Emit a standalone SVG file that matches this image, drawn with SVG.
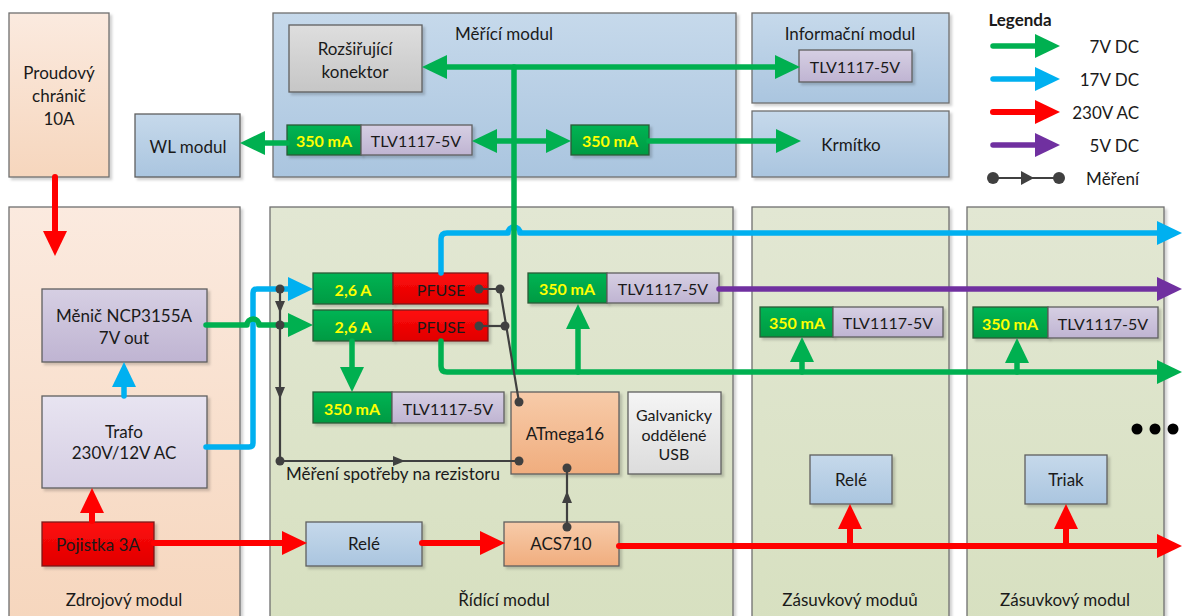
<svg xmlns="http://www.w3.org/2000/svg" width="1184" height="616" viewBox="0 0 1184 616">
  <defs>
    <linearGradient id="gPeach" x1="0" y1="0" x2="0" y2="1"><stop offset="0" stop-color="#fbeadf"/><stop offset="1" stop-color="#f6d6bd"/></linearGradient>
    <linearGradient id="gOlive" x1="0" y1="0" x2="0" y2="1"><stop offset="0" stop-color="#e2e7d3"/><stop offset="1" stop-color="#d7e0c0"/></linearGradient>
    <linearGradient id="gBlue" x1="0" y1="0" x2="0" y2="1"><stop offset="0" stop-color="#c6d9eb"/><stop offset="1" stop-color="#aac5df"/></linearGradient>
    <linearGradient id="gLav" x1="0" y1="0" x2="0" y2="1"><stop offset="0" stop-color="#d6cfe3"/><stop offset="1" stop-color="#bfb4d2"/></linearGradient>
    <linearGradient id="gLavLight" x1="0" y1="0" x2="0" y2="1"><stop offset="0" stop-color="#e8e4f1"/><stop offset="1" stop-color="#d5cee3"/></linearGradient>
    <linearGradient id="gGreen" x1="0" y1="0" x2="0" y2="1"><stop offset="0" stop-color="#00b454"/><stop offset="1" stop-color="#009a42"/></linearGradient>
    <linearGradient id="gRed" x1="0" y1="0" x2="0" y2="1"><stop offset="0" stop-color="#ff0b0b"/><stop offset="1" stop-color="#e00000"/></linearGradient>
    <linearGradient id="gOrange" x1="0" y1="0" x2="0" y2="1"><stop offset="0" stop-color="#f7cba9"/><stop offset="1" stop-color="#f0ad7e"/></linearGradient>
    <linearGradient id="gGray" x1="0" y1="0" x2="0" y2="1"><stop offset="0" stop-color="#dedede"/><stop offset="1" stop-color="#c6c6c6"/></linearGradient>
    <linearGradient id="gWhite" x1="0" y1="0" x2="0" y2="1"><stop offset="0" stop-color="#f5f5f5"/><stop offset="1" stop-color="#dcdcdc"/></linearGradient>
    <filter id="shadow" x="-10%" y="-10%" width="130%" height="130%">
      <feDropShadow dx="2.5" dy="2.5" stdDeviation="1" flood-color="#000" flood-opacity="0.18"/>
    </filter>
    <marker id="hG" viewBox="0 0 25 24" markerWidth="25" markerHeight="24" refX="0" refY="12" orient="auto-start-reverse" markerUnits="userSpaceOnUse"><path d="M0,0 L25,12 L0,24 Z" fill="#00b050"/></marker>
    <marker id="hB" viewBox="0 0 25 24" markerWidth="25" markerHeight="24" refX="0" refY="12" orient="auto-start-reverse" markerUnits="userSpaceOnUse"><path d="M0,0 L25,12 L0,24 Z" fill="#00b0f0"/></marker>
    <marker id="hR" viewBox="0 0 25 24" markerWidth="25" markerHeight="24" refX="0" refY="12" orient="auto-start-reverse" markerUnits="userSpaceOnUse"><path d="M0,0 L25,12 L0,24 Z" fill="#ff0000"/></marker>
    <marker id="hP" viewBox="0 0 25 24" markerWidth="25" markerHeight="24" refX="0" refY="12" orient="auto-start-reverse" markerUnits="userSpaceOnUse"><path d="M0,0 L25,12 L0,24 Z" fill="#7030a0"/></marker>
  </defs>
  <style>
    text { font-family: "Lato", "Liberation Sans", sans-serif; font-size: 17px; fill: #1a1a1a; text-anchor: middle; dominant-baseline: central; }
    .sm { font-size: 16px; }
    .amp { font-size: 16px; font-weight: bold; fill: #ffff00; }
    .bold { font-weight: bold; }
    .box { stroke: #5f5f5f; stroke-width: 1.3; filter: url(#shadow); }
    .mod { stroke: #6f6f6f; stroke-width: 1.3; filter: url(#shadow); }
    .peach { fill: url(#gPeach); }
    .olive { fill: url(#gOlive); }
    .blue { fill: url(#gBlue); }
    .lav { fill: url(#gLav); }
    .lavl { fill: url(#gLavLight); }
    .green { fill: url(#gGreen); stroke: #2c5a38; }
    .red { fill: url(#gRed); stroke: #7a1a1a; }
    .orange { fill: url(#gOrange); }
    .gray { fill: url(#gGray); }
    .white { fill: url(#gWhite); }
    .w { fill: none; stroke-linecap: round; stroke-linejoin: round; }
    .c7 { stroke: #00b050; stroke-width: 5.5; }
    .c17 { stroke: #00b0f0; stroke-width: 5.5; }
    .c230 { stroke: #ff0000; stroke-width: 6; }
    .c5 { stroke: #7030a0; stroke-width: 5.5; }
    .meas { fill: none; stroke: #404040; stroke-width: 2.2; }
    .dot { fill: #404040; }
    .tri { fill: #404040; }
  </style>

  <!-- module containers -->
  <g id="proudovy-chranic">
    <rect class="mod peach" x="9" y="13" width="100" height="164"/>
    <text x="59" y="72">Proudový</text>
    <text x="59" y="95">chránič</text>
    <text x="59" y="118">10A</text>
  </g>
  <g id="zdrojovy-modul">
    <rect class="mod peach" x="9" y="207" width="231" height="420"/>
    <text x="124" y="599">Zdrojový modul</text>
  </g>
  <g id="ridici-modul">
    <rect class="mod olive" x="270" y="207" width="463" height="420"/>
    <text x="504" y="599">Řídící modul</text>
  </g>
  <g id="zasuvkovy-modul-1">
    <rect class="mod olive" x="752" y="207" width="197" height="420"/>
    <text x="850" y="599">Zásuvkový moduů</text>
  </g>
  <g id="zasuvkovy-modul-2">
    <rect class="mod olive" x="967" y="207" width="197" height="420"/>
    <text x="1065" y="599">Zásuvkový modul</text>
  </g>
  <g id="merici-modul">
    <rect class="mod blue" x="273" y="13" width="463" height="164"/>
    <text x="504" y="33">Měřící modul</text>
  </g>
  <g id="informacni-modul">
    <rect class="mod blue" x="752" y="13" width="197" height="90"/>
    <text x="850" y="33">Informační modul</text>
  </g>
  <g id="krmitko">
    <rect class="mod blue" x="752" y="111" width="197" height="66"/>
    <text x="851" y="144">Krmítko</text>
  </g>
  <g id="wl-modul">
    <rect class="box blue" x="135" y="114" width="105" height="63"/>
    <text x="188" y="146">WL modul</text>
  </g>

  <!-- inner blocks -->
  <g id="rozsirujici-konektor">
    <rect class="box gray" x="289" y="25" width="133" height="67"/>
    <text x="355" y="48">Rozšiřující</text>
    <text x="355" y="71">konektor</text>
  </g>
  <g id="merici-stabilizator">
    <rect class="box green" x="287" y="125" width="74" height="30"/>
    <text class="amp" x="324" y="140">350 mA</text>
    <rect class="box lav" x="361" y="125" width="111" height="30"/>
    <text class="sm" x="416" y="140">TLV1117-5V</text>
  </g>
  <g id="merici-pojistka">
    <rect class="box green" x="571" y="125" width="78" height="30"/>
    <text class="amp" x="610" y="140">350 mA</text>
  </g>
  <g id="informacni-stabilizator">
    <rect class="box lav" x="799" y="50" width="113" height="32"/>
    <text class="sm" x="855" y="66">TLV1117-5V</text>
  </g>
  <g id="menic">
    <rect class="box lav" x="42" y="289" width="165" height="73"/>
    <text x="124" y="315">Měnič NCP3155A</text>
    <text x="124" y="337">7V out</text>
  </g>
  <g id="trafo">
    <rect class="box lavl" x="42" y="396" width="165" height="92"/>
    <text x="124" y="431">Trafo</text>
    <text x="124" y="452">230V/12V AC</text>
  </g>
  <g id="pojistka">
    <rect class="box red" x="42" y="522" width="112" height="44"/>
    <text x="98" y="544">Pojistka 3A</text>
  </g>
  <g id="pfuse-17v">
    <rect class="box green" x="313" y="273" width="80" height="31"/>
    <text class="amp" x="353" y="289">2,6 A</text>
    <rect class="box red" x="393" y="273" width="95" height="31"/>
    <text class="sm" x="441" y="289">PFUSE</text>
  </g>
  <g id="pfuse-7v">
    <rect class="box green" x="313" y="310" width="80" height="31"/>
    <text class="amp" x="353" y="326">2,6 A</text>
    <rect class="box red" x="393" y="310" width="95" height="31"/>
    <text class="sm" x="441" y="326">PFUSE</text>
  </g>
  <g id="ridici-stabilizator-1">
    <rect class="box green" x="313" y="392" width="79" height="31"/>
    <text class="amp" x="352" y="408">350 mA</text>
    <rect class="box lav" x="392" y="392" width="112" height="31"/>
    <text class="sm" x="448" y="408">TLV1117-5V</text>
  </g>
  <g id="ridici-stabilizator-2">
    <rect class="box green" x="528" y="273" width="79" height="30"/>
    <text class="amp" x="567" y="288">350 mA</text>
    <rect class="box lav" x="607" y="273" width="112" height="30"/>
    <text class="sm" x="663" y="288">TLV1117-5V</text>
  </g>
  <g id="atmega16">
    <rect class="box orange" x="511" y="392" width="108" height="82"/>
    <text x="565" y="433">ATmega16</text>
  </g>
  <g id="usb">
    <rect class="box white" x="628" y="392" width="93" height="82"/>
    <text class="sm" x="674" y="414">Galvanicky</text>
    <text class="sm" x="674" y="434">oddělené</text>
    <text class="sm" x="674" y="453">USB</text>
  </g>
  <g id="ridici-rele">
    <rect class="box blue" x="306" y="522" width="116" height="44"/>
    <text x="364" y="543">Relé</text>
  </g>
  <g id="acs710">
    <rect class="box orange" x="504" y="522" width="115" height="44"/>
    <text x="561" y="543">ACS710</text>
  </g>
  <g id="zasuvka-1-stabilizator">
    <rect class="box green" x="760" y="307" width="73" height="30"/>
    <text class="amp" x="797" y="322">350 mA</text>
    <rect class="box lav" x="833" y="307" width="110" height="30"/>
    <text class="sm" x="888" y="322">TLV1117-5V</text>
  </g>
  <g id="zasuvka-2-stabilizator">
    <rect class="box green" x="973" y="307" width="75" height="31"/>
    <text class="amp" x="1010" y="323">350 mA</text>
    <rect class="box lav" x="1048" y="307" width="110" height="31"/>
    <text class="sm" x="1103" y="323">TLV1117-5V</text>
  </g>
  <g id="zasuvka-1-rele">
    <rect class="box blue" x="810" y="455" width="82" height="49"/>
    <text x="851" y="479">Relé</text>
  </g>
  <g id="zasuvka-2-triak">
    <rect class="box blue" x="1025" y="455" width="82" height="49"/>
    <text x="1066" y="479">Triak</text>
  </g>

  <!-- power and measurement connectors -->
  <g id="connectors">
    <!-- 230 V AC -->
    <path class="w c230" d="M55,177 V231" marker-end="url(#hR)"/>
    <path class="w c230" d="M92,521 V513" marker-end="url(#hR)"/>
    <path class="w c230" d="M154,543 H282" marker-end="url(#hR)"/>
    <path class="w c230" d="M422,543 H480" marker-end="url(#hR)"/>
    <path class="w c230" d="M619,546 H1157" marker-end="url(#hR)"/>
    <path class="w c230" d="M850,546 V529" marker-end="url(#hR)"/>
    <path class="w c230" d="M1066,546 V529" marker-end="url(#hR)"/>

    <!-- 17 V DC -->
    <path class="w c17" d="M124,396 V387" marker-end="url(#hB)"/>
    <path class="w c17" d="M206,447 H249 Q253,447 253,443 V293 Q253,289 257,289 H288" marker-end="url(#hB)"/>
    <path class="w c17" d="M441,273 V239 Q441,233 447,233 H508 A6,6 0 0 1 520,233 H1157" marker-end="url(#hB)"/>

    <!-- 5 V DC -->
    <path class="w c5" d="M719,289 H1157" marker-end="url(#hP)"/>

    <!-- 7 V DC -->
    <path class="w c7" d="M206,325 H247 A6,6 0 0 1 259,325 H288" marker-end="url(#hG)"/>
    <path class="w c7" d="M352,341 V367" marker-end="url(#hG)"/>
    <path class="w c7" d="M441,341 V366 Q441,372 447,372 H1157" marker-end="url(#hG)"/>
    <path class="w c7" d="M578,372 V329" marker-end="url(#hG)"/>
    <path class="w c7" d="M802,372 V362" marker-end="url(#hG)"/>
    <path class="w c7" d="M1017,372 V363" marker-end="url(#hG)"/>
    <path class="w c7" d="M514,67 V372"/>
    <path class="w c7" d="M447,67 H775" marker-start="url(#hG)" marker-end="url(#hG)"/>
    <path class="w c7" d="M497,141 H546" marker-start="url(#hG)" marker-end="url(#hG)"/>
    <path class="w c7" d="M649,141 H776" marker-end="url(#hG)"/>
    <path class="w c7" d="M287,143 H265" marker-end="url(#hG)"/>

    <!-- measurement -->
    <path class="meas" d="M280,289 V461 H519"/>
    <polygon class="tri" points="275,301 285,301 280,313"/>
    <polygon class="tri" points="275,387 285,387 280,399"/>
    <polygon class="tri" points="393,456 393,466 405,461"/>
    <path class="meas" d="M479,289 H500 L519,402"/>
    <path class="meas" d="M479,326 H505"/>
    <path class="meas" d="M567,527 V468"/>
    <polygon class="tri" points="562,503 572,503 567,491"/>
    <circle class="dot" cx="280" cy="289" r="4.5"/>
    <circle class="dot" cx="280" cy="325" r="4.5"/>
    <circle class="dot" cx="280" cy="461" r="4.5"/>
    <circle class="dot" cx="519" cy="461" r="4.5"/>
    <circle class="dot" cx="479" cy="289" r="4.5"/>
    <circle class="dot" cx="500" cy="289" r="4.5"/>
    <circle class="dot" cx="479" cy="326" r="4.5"/>
    <circle class="dot" cx="505" cy="326" r="4.5"/>
    <circle class="dot" cx="519" cy="402" r="4.5"/>
    <circle class="dot" cx="567" cy="527" r="4.5"/>
    <circle class="dot" cx="567" cy="468" r="4.5"/>
  </g>

  <text x="393" y="473">Měření spotřeby na rezistoru</text>

  <!-- more modules follow -->
  <g id="continuation">
    <circle cx="1137" cy="429" r="5.5" fill="#000"/>
    <circle cx="1155" cy="429" r="5.5" fill="#000"/>
    <circle cx="1173" cy="429" r="5.5" fill="#000"/>
  </g>

  <!-- legend -->
  <g id="legenda">
    <text class="bold" x="1020" y="19">Legenda</text>
    <path class="w c7" d="M993,46 H1035" stroke-width="7" marker-end="url(#hG)"/>
    <text x="1139" y="46" style="text-anchor:end">7V DC</text>
    <path class="w c17" d="M993,79 H1035" stroke-width="7" marker-end="url(#hB)"/>
    <text x="1139" y="79" style="text-anchor:end">17V DC</text>
    <path class="w c230" d="M993,112 H1035" stroke-width="7" marker-end="url(#hR)"/>
    <text x="1139" y="112" style="text-anchor:end">230V AC</text>
    <path class="w c5" d="M993,145 H1035" stroke-width="7" marker-end="url(#hP)"/>
    <text x="1139" y="145" style="text-anchor:end">5V DC</text>
    <path class="meas" d="M993,178 H1059" stroke-width="3"/>
    <polygon class="tri" points="1021,171 1021,185 1034,178"/>
    <circle class="dot" cx="993" cy="178" r="6"/>
    <circle class="dot" cx="1059" cy="178" r="6"/>
    <text x="1139" y="178" style="text-anchor:end">Měření</text>
  </g>
</svg>
